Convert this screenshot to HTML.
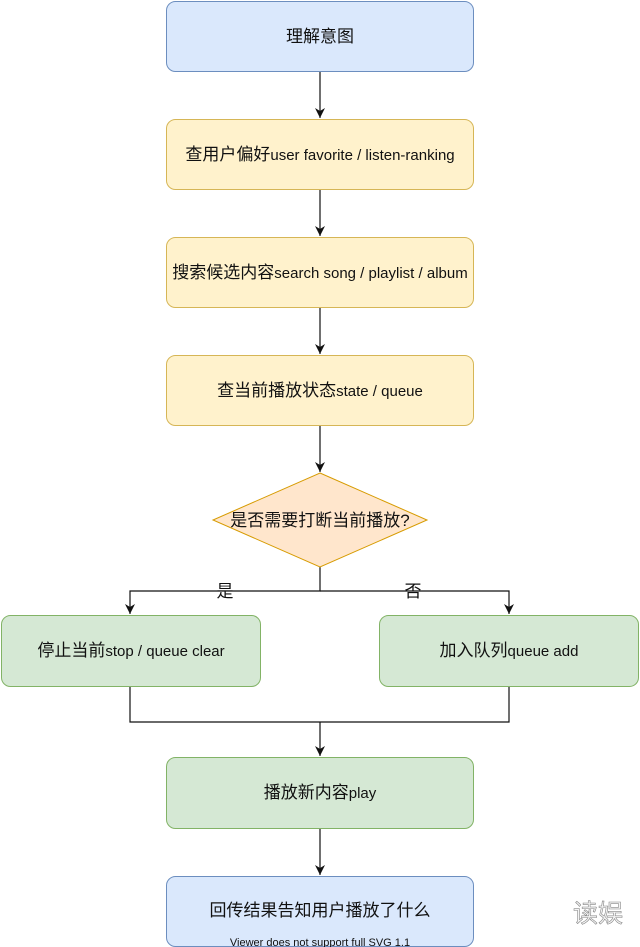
<!DOCTYPE html>
<html><head><meta charset="utf-8"><style>
html,body{margin:0;padding:0;background:#fff;}
svg{display:block;}
text{font-family:"Liberation Sans","Noto Sans CJK SC",sans-serif;fill:#111;}
.m{font-size:17px;}
.l{font-size:15px;}
</style></head><body>
<svg width="640" height="947" viewBox="0 0 640 947" xmlns="http://www.w3.org/2000/svg">
<defs><marker id="a" markerWidth="12" markerHeight="12" refX="10" refY="5" orient="auto" markerUnits="userSpaceOnUse"><path d="M0,0 L10,5 L0,10 L3,5 Z" fill="#111"/></marker></defs>
<g stroke="#111" stroke-width="1.2" fill="none">
<line x1="320" y1="72" x2="320" y2="118" marker-end="url(#a)"/>
<line x1="320" y1="190" x2="320" y2="236" marker-end="url(#a)"/>
<line x1="320" y1="308" x2="320" y2="354" marker-end="url(#a)"/>
<line x1="320" y1="426" x2="320" y2="472" marker-end="url(#a)"/>
<polyline points="320,567 320,591 130,591 130,614" marker-end="url(#a)"/>
<polyline points="320,591 509,591 509,614" marker-end="url(#a)"/>
<polyline points="130,687 130,722 509,722 509,687"/>
<line x1="320" y1="722" x2="320" y2="756" marker-end="url(#a)"/>
<line x1="320" y1="829" x2="320" y2="875" marker-end="url(#a)"/>
</g>
<rect x="166.5" y="1.5" width="307" height="70" rx="9" fill="#dae8fc" stroke="#6c8ebf"/>
<rect x="166.5" y="119.5" width="307" height="70" rx="9" fill="#fff2cc" stroke="#d6b656"/>
<rect x="166.5" y="237.5" width="307" height="70" rx="9" fill="#fff2cc" stroke="#d6b656"/>
<rect x="166.5" y="355.5" width="307" height="70" rx="9" fill="#fff2cc" stroke="#d6b656"/>
<polygon points="320,473 427,520 320,567 213,520" fill="#ffe6cc" stroke="#d79b00"/>
<rect x="1.5" y="615.5" width="259" height="71" rx="9" fill="#d5e8d4" stroke="#82b366"/>
<rect x="379.5" y="615.5" width="259" height="71" rx="9" fill="#d5e8d4" stroke="#82b366"/>
<rect x="166.5" y="757.5" width="307" height="71" rx="9" fill="#d5e8d4" stroke="#82b366"/>
<rect x="166.5" y="876.5" width="307" height="70" rx="9" fill="#dae8fc" stroke="#6c8ebf"/>
<g text-anchor="middle">
<text class="m" x="320" y="42">理解意图</text>
<text class="m" x="320" y="160">查用户偏好<tspan class="l">user favorite / listen-ranking</tspan></text>
<text class="m" x="320" y="278">搜索候选内容<tspan class="l">search song / playlist / album</tspan></text>
<text class="m" x="320" y="396">查当前播放状态<tspan class="l">state / queue</tspan></text>
<text class="m" x="320" y="526">是否需要打断当前播放?</text>
<text class="m" x="225" y="597">是</text>
<text class="m" x="413" y="597">否</text>
<text class="m" x="131" y="656">停止当前<tspan class="l">stop / queue clear</tspan></text>
<text class="m" x="509" y="656">加入队列<tspan class="l">queue add</tspan></text>
<text class="m" x="320" y="798">播放新内容<tspan class="l">play</tspan></text>
<text class="m" x="320" y="916">回传结果告知用户播放了什么</text>
<text x="320" y="946" style="font-size:11px">Viewer does not support full SVG 1.1</text>
<text x="598" y="922" style="font-size:25px;fill:#f4f4f4;stroke:#888;stroke-width:0.6">读娱</text>
</g>
</svg>
</body></html>
